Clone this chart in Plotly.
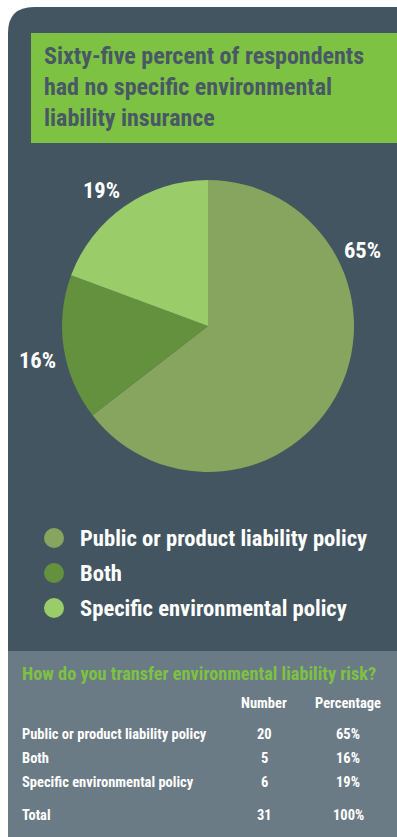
import plotly.graph_objects as go

# Survey data
categories = ["Public or product liability policy", "Both", "Specific environmental policy"]
counts = [20, 5, 6]
slice_colors = ["#87a55e", "#64913d", "#9acd6a"]

title_lines = ["Sixty-five percent of respondents",
               "had no specific environmental",
               "liability insurance"]
table_title = "How do you transfer environmental liability risk?"
table_headers = ["Number", "Percentage"]
total_label = "Total"

W, H = 397, 837
FONT = "Roboto Condensed, Liberation Sans Narrow, DejaVu Sans Condensed, Roboto, sans-serif"
PANEL = "#435560"
TABLE_BG = "#6b7b86"
GREEN = "#7dc242"

def px(x):
    return x / W

def py(y):
    return 1 - y / H

total = sum(counts)
pcts = [round(c / total * 100) for c in counts]

fig = go.Figure()

# Pie: 12 o'clock start, clockwise, in data order
pie_cx, pie_cy, pie_r = 208, 326, 146
fig.add_trace(go.Pie(
    labels=categories,
    values=counts,
    sort=False,
    direction="clockwise",
    rotation=0,
    marker=dict(colors=slice_colors, line=dict(width=0)),
    textinfo="none",
    hoverinfo="label+value+percent",
    showlegend=False,
    domain=dict(x=[px(pie_cx - pie_r), px(pie_cx + pie_r)],
                y=[py(pie_cy + pie_r), py(pie_cy - pie_r)]),
))

shapes = []
# Dark panel with rounded top-left corner
r = 26
x0, y0 = 8, 7
path = (f"M {px(x0)},{py(H)} L {px(x0)},{py(y0 + r)} "
        f"Q {px(x0)},{py(y0)} {px(x0 + r)},{py(y0)} "
        f"L {px(W)},{py(y0)} L {px(W)},{py(H)} Z")
shapes.append(dict(type="path", xref="paper", yref="paper", path=path,
                   fillcolor=PANEL, line=dict(width=0), layer="below"))
# Title box
shapes.append(dict(type="rect", xref="paper", yref="paper",
                   x0=px(31), x1=px(W), y0=py(143), y1=py(33),
                   fillcolor=GREEN, line=dict(width=0), layer="below"))
# Table background
shapes.append(dict(type="rect", xref="paper", yref="paper",
                   x0=px(8), x1=px(W), y0=py(H), y1=py(651),
                   fillcolor=TABLE_BG, line=dict(width=0), layer="below"))

annotations = []

def text(x, y, s, size, color="white", xanchor="left"):
    annotations.append(dict(xref="paper", yref="paper", x=px(x), y=py(y),
                            text=s, showarrow=False, xanchor=xanchor,
                            yanchor="middle",
                            font=dict(family=FONT, size=size, color=color,
                                      weight="bold")))

# Title
for i, line in enumerate(title_lines):
    text(42, 56 + i * 31, line, 24, color="#485864")

# Percentage labels around the pie
label_pos = [(362, 250), (37, 360), (101, 190)]
for (lx, ly), p in zip(label_pos, pcts):
    text(lx, ly, f"{p}%", 22.5, xanchor="center")

# Legend with round swatches
legend_y = [538, 573, 608]
for ly, cat, col in zip(legend_y, categories, slice_colors):
    shapes.append(dict(type="circle", xref="paper", yref="paper",
                       x0=px(44), x1=px(64), y0=py(ly + 10), y1=py(ly - 10),
                       fillcolor=col, line=dict(width=0)))
    text(78, ly, cat, 22.6)

# Summary table
text(20, 673, table_title, 18.3, color=GREEN)
col_x = [264, 348]
for cx, h in zip(col_x, table_headers):
    text(cx, 703, h, 14.5, xanchor="center")
row_y = [734, 758, 782]
for ry, cat, c, p in zip(row_y, categories, counts, pcts):
    text(20, ry, cat, 14.5)
    text(col_x[0], ry, str(c), 14.5, xanchor="center")
    text(col_x[1], ry, f"{p}%", 14.5, xanchor="center")
text(20, 815, total_label, 14.5)
text(col_x[0], 815, str(total), 14.5, xanchor="center")
text(col_x[1], 815, f"{sum(pcts)}%", 14.5, xanchor="center")

fig.update_layout(
    width=W, height=H,
    margin=dict(l=0, r=0, t=0, b=0),
    paper_bgcolor="#ffffff",
    plot_bgcolor="#ffffff",
    shapes=shapes,
    annotations=annotations,
    showlegend=False,
)

fig.write_html("out.html", config={"displayModeBar": False})
